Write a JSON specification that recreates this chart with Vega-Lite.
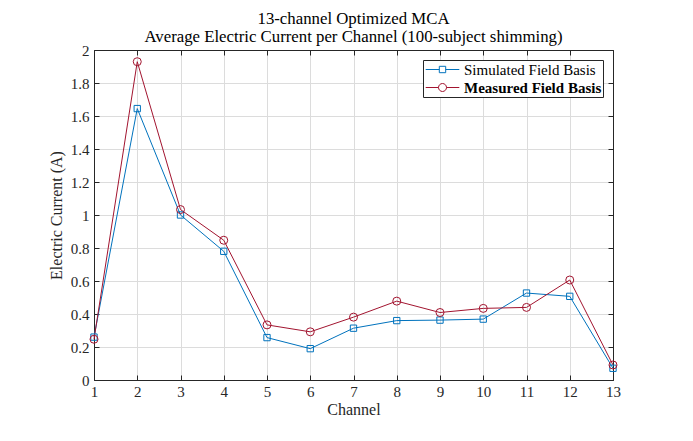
{
  "$schema": "https://vega.github.io/schema/vega-lite/v6.json",
  "width": 519,
  "height": 330,
  "autosize": {"type": "none"},
  "padding": {"left": 94, "top": 50, "right": 80, "bottom": 61},
  "background": "white",
  "title": {
    "text": ["13-channel Optimized MCA", "Average Electric Current per Channel (100-subject shimming)"],
    "font": "Liberation Serif",
    "fontSize": 16.8,
    "fontWeight": "normal",
    "color": "#000000",
    "lineHeight": 18,
    "offset": -3,
    "anchor": "middle"
  },
  "config": {
    "view": {"stroke": "#262626", "strokeWidth": 1},
    "font": "Liberation Serif",
    "axis": {
      "domainColor": "#262626",
      "domainWidth": 1,
      "tickColor": "#262626",
      "tickSize": -5,
      "labelFont": "Liberation Serif",
      "labelFontSize": 15,
      "labelColor": "#262626",
      "titleFont": "Liberation Serif",
      "titleFontSize": 16,
      "titleFontWeight": "normal",
      "titleColor": "#262626",
      "gridColor": "#dcdcdc",
      "gridWidth": 1
    }
  },
  "data": {
    "values": [
      {"channel": 1, "current": 0.26, "basis": "Simulated Field Basis"},
      {"channel": 2, "current": 1.645, "basis": "Simulated Field Basis"},
      {"channel": 3, "current": 1.0, "basis": "Simulated Field Basis"},
      {"channel": 4, "current": 0.78, "basis": "Simulated Field Basis"},
      {"channel": 5, "current": 0.257, "basis": "Simulated Field Basis"},
      {"channel": 6, "current": 0.19, "basis": "Simulated Field Basis"},
      {"channel": 7, "current": 0.314, "basis": "Simulated Field Basis"},
      {"channel": 8, "current": 0.36, "basis": "Simulated Field Basis"},
      {"channel": 9, "current": 0.363, "basis": "Simulated Field Basis"},
      {"channel": 10, "current": 0.369, "basis": "Simulated Field Basis"},
      {"channel": 11, "current": 0.527, "basis": "Simulated Field Basis"},
      {"channel": 12, "current": 0.507, "basis": "Simulated Field Basis"},
      {"channel": 13, "current": 0.071, "basis": "Simulated Field Basis"},
      {"channel": 1, "current": 0.247, "basis": "Measured Field Basis"},
      {"channel": 2, "current": 1.929, "basis": "Measured Field Basis"},
      {"channel": 3, "current": 1.033, "basis": "Measured Field Basis"},
      {"channel": 4, "current": 0.847, "basis": "Measured Field Basis"},
      {"channel": 5, "current": 0.334, "basis": "Measured Field Basis"},
      {"channel": 6, "current": 0.292, "basis": "Measured Field Basis"},
      {"channel": 7, "current": 0.381, "basis": "Measured Field Basis"},
      {"channel": 8, "current": 0.478, "basis": "Measured Field Basis"},
      {"channel": 9, "current": 0.409, "basis": "Measured Field Basis"},
      {"channel": 10, "current": 0.434, "basis": "Measured Field Basis"},
      {"channel": 11, "current": 0.44, "basis": "Measured Field Basis"},
      {"channel": 12, "current": 0.606, "basis": "Measured Field Basis"},
      {"channel": 13, "current": 0.091, "basis": "Measured Field Basis"}
    ]
  },
  "resolve": {"axis": {"x": "independent", "y": "independent"}},
  "layer": [
    {
      "mark": {"type": "line", "strokeWidth": 1, "clip": false},
      "encoding": {
        "x": {
          "field": "channel", "type": "quantitative",
          "scale": {"domain": [1, 13], "nice": false, "zero": false},
          "axis": {"orient": "bottom", "values": [1,2,3,4,5,6,7,8,9,10,11,12,13], "title": "Channel", "grid": true, "labelPadding": 9, "titlePadding": 2, "labelFlush": false}
        },
        "y": {
          "field": "current", "type": "quantitative",
          "scale": {"domain": [0, 2], "nice": false},
          "axis": {"orient": "left", "values": [0,0.2,0.4,0.6,0.8,1,1.2,1.4,1.6,1.8,2], "format": "~g", "title": "Electric Current (A)", "grid": true, "labelPadding": 10, "titlePadding": 6, "labelFlush": false}
        },
        "color": {
          "field": "basis", "type": "nominal",
          "scale": {"domain": ["Simulated Field Basis", "Measured Field Basis"], "range": ["#0072BD", "#A2142F"]},
          "legend": {
            "title": null,
            "orient": "top-right",
            "offset": 10,
            "padding": 1,
            "fillColor": "white",
            "strokeColor": "#262626",
            "cornerRadius": 0,
            "labelFont": "Liberation Serif",
            "labelFontSize": 15,
            "labelColor": "#000000",
            "symbolSize": 256,
            "symbolOffset": 10,
            "symbolStrokeWidth": 1,
            "rowPadding": 1,
            "labelOffset": 13,
            "encode": {
              "symbols": {
                "update": {
                  "shape": {"signal": "datum.value == 'Simulated Field Basis' ? 'M-2.1,0H-0.4M0.4,0H2.1M-0.4,-0.4H0.4V0.4H-0.4Z' : 'M-2.1,0H-0.5M0.5,0H2.1M0.5,0A0.5,0.5 0 1,1 -0.5,0A0.5,0.5 0 1,1 0.5,0'"},
                  "size": {"value": 256},
                  "fill": {"value": "transparent"}
                }
              },
              "labels": {
                "update": {
                  "fontWeight": {"signal": "datum.value == 'Measured Field Basis' ? 'bold' : 'normal'"}
                }
              }
            }
          }
        }
      }
    },
    {
      "transform": [{"filter": "datum.basis == 'Simulated Field Basis'"}],
      "mark": {"type": "point", "shape": "square", "size": 40, "filled": false, "strokeWidth": 1, "clip": false, "opacity": 1},
      "encoding": {
        "x": {"field": "channel", "type": "quantitative", "axis": null},
        "y": {"field": "current", "type": "quantitative", "axis": null},
        "color": {"field": "basis", "type": "nominal"}
      }
    },
    {
      "transform": [{"filter": "datum.basis == 'Measured Field Basis'"}],
      "mark": {"type": "point", "shape": "circle", "size": 64, "filled": false, "strokeWidth": 1, "clip": false, "opacity": 1},
      "encoding": {
        "x": {
          "field": "channel", "type": "quantitative",
          "axis": {"orient": "top", "values": [1,2,3,4,5,6,7,8,9,10,11,12,13], "labels": false, "title": null, "grid": false, "domain": true}
        },
        "y": {
          "field": "current", "type": "quantitative",
          "axis": {"orient": "right", "values": [0,0.2,0.4,0.6,0.8,1,1.2,1.4,1.6,1.8,2], "labels": false, "title": null, "grid": false, "domain": true}
        },
        "color": {"field": "basis", "type": "nominal"}
      }
    }
  ]
}
